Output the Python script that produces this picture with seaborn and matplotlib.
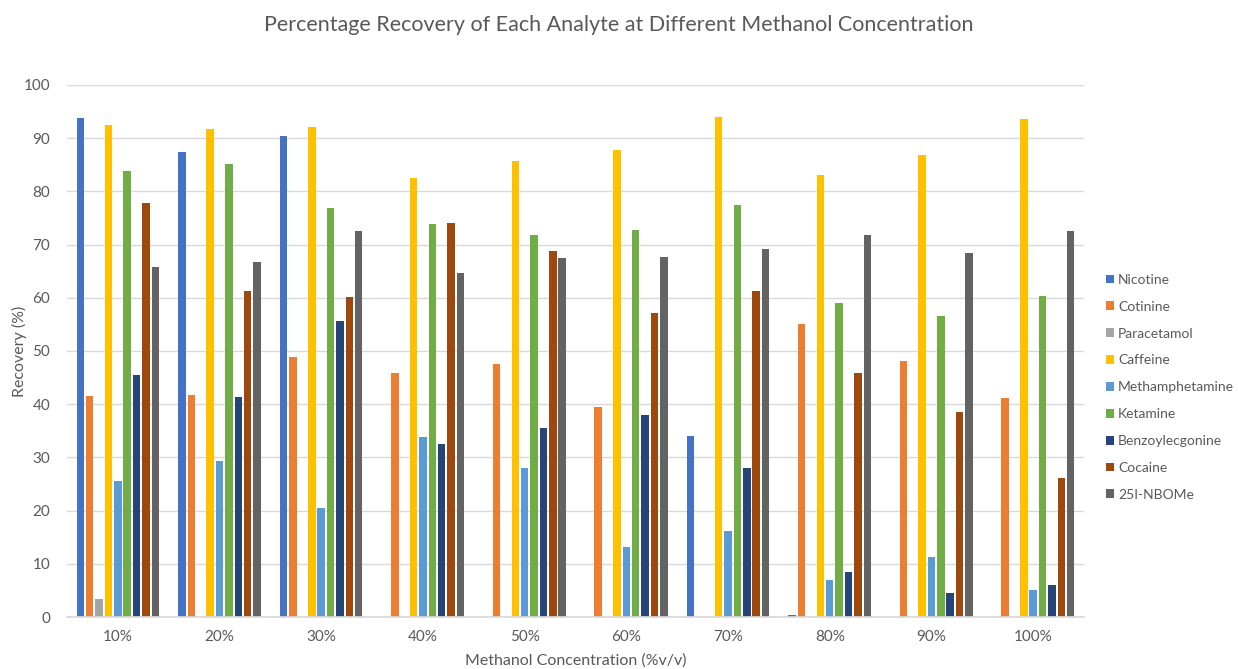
import numpy as np
import pandas as pd
import matplotlib
matplotlib.use("Agg")
import matplotlib.pyplot as plt
import seaborn as sns

concentrations = ["10%", "20%", "30%", "40%", "50%", "60%", "70%", "80%", "90%", "100%"]
analytes = ["Nicotine", "Cotinine", "Paracetamol", "Caffeine", "Methamphetamine",
            "Ketamine", "Benzoylecgonine", "Cocaine", "25I-NBOMe"]

nicotine        = [93.8, 87.4, 90.5, 0.0, 0.0, 0.0, 34.0, 0.3, 0.0, 0.0]
cotinine        = [41.5, 41.8, 48.8, 45.8, 47.6, 39.4, 0.0, 55.1, 48.2, 41.2]
paracetamol     = [3.3, 0.0, 0.0, 0.0, 0.0, 0.0, 0.0, 0.0, 0.0, 0.0]
caffeine        = [92.5, 91.8, 92.1, 82.5, 85.7, 87.7, 93.9, 83.0, 86.8, 93.6]
methamphetamine = [25.5, 29.3, 20.5, 33.9, 28.1, 13.2, 16.2, 7.0, 11.3, 5.0]
ketamine        = [83.8, 85.1, 76.8, 73.8, 71.8, 72.7, 77.4, 59.0, 56.6, 60.3]
benzoylecgonine = [45.4, 41.3, 55.6, 32.5, 35.6, 38.0, 28.0, 8.5, 4.6, 6.1]
cocaine         = [77.8, 61.2, 60.2, 74.1, 68.7, 57.2, 61.3, 45.9, 38.5, 26.1]
nbome           = [65.8, 66.7, 72.5, 64.6, 67.5, 67.6, 69.1, 71.8, 68.4, 72.6]

series = [nicotine, cotinine, paracetamol, caffeine, methamphetamine,
          ketamine, benzoylecgonine, cocaine, nbome]

palette = ["#4472C4", "#ED7D31", "#A5A5A5", "#FFC000", "#5B9BD5",
           "#70AD47", "#264478", "#9E480E", "#636363"]

rows = []
for name, vals in zip(analytes, series):
    for c, v in zip(concentrations, vals):
        rows.append({"Concentration": c, "Analyte": name, "Recovery": v})
df = pd.DataFrame(rows)

sns.set_theme(style="white")
plt.rcParams["font.family"] = ["Lato", "DejaVu Sans"]
text_color = "#595959"

fig = plt.figure(figsize=(12.38, 6.69), dpi=100)
ax = fig.add_axes([0.0541, 0.0777, 0.8215, 0.7953])

sns.barplot(data=df, x="Concentration", y="Recovery", hue="Analyte",
            order=concentrations, hue_order=analytes, palette=palette,
            width=0.83, gap=0.2, saturation=1, errorbar=None,
            linewidth=0, ax=ax, legend=True)

ax.set_ylim(0, 100)
ax.set_xlim(-0.5, 9.5)
ax.set_yticks(np.arange(0, 101, 10))
ax.yaxis.grid(True, color="#D9D9D9", linewidth=1)
ax.set_axisbelow(True)
for s in ["top", "right", "left"]:
    ax.spines[s].set_visible(False)
ax.spines["bottom"].set_color("#D9D9D9")
ax.tick_params(axis="y", length=0, labelsize=11, colors=text_color, pad=12)
ax.tick_params(axis="x", length=0, labelsize=11, colors=text_color, pad=9)

ax.set_xlabel("Methanol Concentration (%v/v)", fontsize=11.5, color=text_color)
ax.set_ylabel("Recovery (%)", fontsize=11.5, color=text_color)
ax.yaxis.set_label_coords(-0.047, 0.5)
ax.xaxis.set_label_coords(0.5, -0.081)
ax.xaxis.label.set_va("center")
ax.yaxis.label.set_va("center")
fig.suptitle("Percentage Recovery of Each Analyte at Different Methanol Concentration",
             fontsize=15.5, color=text_color, y=0.977)

handles, labels = ax.get_legend_handles_labels()
ax.legend_.remove()
fig.legend(handles, labels, loc="center left", bbox_to_anchor=(0.893, 0.421),
           frameon=False, fontsize=10, handlelength=0.6, handleheight=0.6,
           handletextpad=0.3, labelspacing=1.07, labelcolor=text_color,
           borderaxespad=0, borderpad=0)

fig.savefig("out.png", dpi=100)
